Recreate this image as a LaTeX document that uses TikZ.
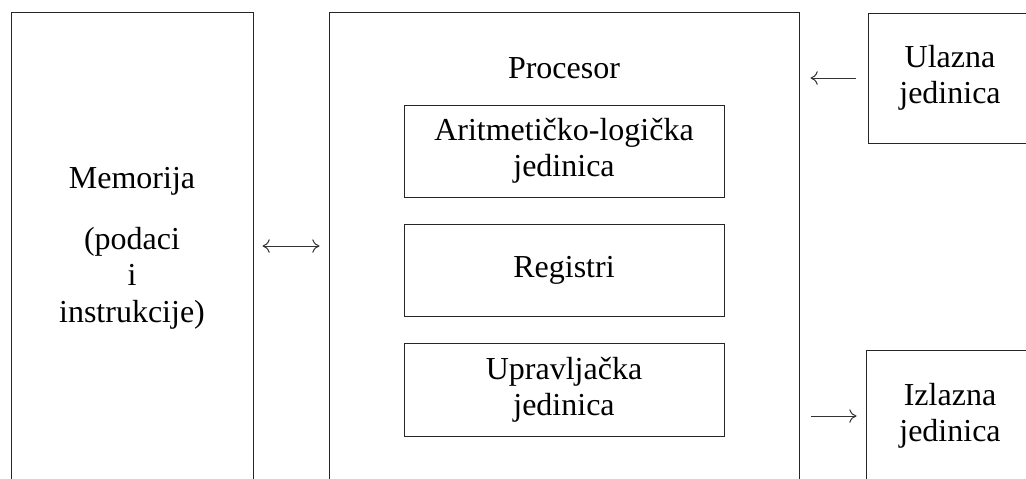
\documentclass[tikz,border=0pt]{standalone}
\usepackage{fontspec}
\setmainfont{Liberation Serif}
\usetikzlibrary{arrows.meta}
\begin{document}
\begin{tikzpicture}[x=0.5pt,y=-0.5pt,
  box/.style={draw=black!85, line width=0.5pt, inner sep=0pt, align=center,
    font=\fontsize{16}{18.2}\selectfont},
  tip/.style={To[length=3.6pt,width=6.8pt]},
  conn/.style={draw=black!80, line width=0.5pt, -{To[length=3.6pt,width=6.8pt]}},
  lbl/.style={font=\fontsize{16}{18.2}\selectfont}]
\useasboundingbox (0,0) rectangle (1026,478);
\clip (0,0) rectangle (1026,478);
\fill[white] (0,0) rectangle (1026,478);
\node[box, minimum width=121pt, minimum height=236pt] (mem) at (132,248)
  {Memorija\\[12.5pt](podaci\\i\\instrukcije)};
\node[box, minimum width=235pt, minimum height=236pt] (proc) at (564,248) {};
\node[lbl, anchor=base] (proclbl) at (564,78) {Procesor};
\node[box, minimum width=160pt, minimum height=46pt] (alu) at (564,151)
  {Aritmetičko-logička\\jedinica};
\node[box, minimum width=160pt, minimum height=46pt] (reg) at (564,270)
  {Registri};
\node[box, minimum width=160pt, minimum height=46.5pt] (upr) at (564,389.5)
  {Upravljačka\\jedinica};
\node[box, minimum width=82pt, minimum height=65pt] (ul) at (950,78)
  {Ulazna\\jedinica};
\node[box, minimum width=84pt, minimum height=66pt] (iz) at (950,416)
  {Izlazna\\jedinica};
\coordinate (mema) at (mem.east |- 0,246);
\coordinate (proca) at (proc.west |- 0,246);
\draw[conn, {To[length=3.6pt,width=6.8pt]}-{To[length=3.6pt,width=6.8pt]},
  shorten <=4.5pt, shorten >=4.5pt] (mema) -- (proca);
\draw[conn, shorten <=6pt, shorten >=5.5pt] (ul.west) -- (proc.east |- ul.west);
\draw[conn, shorten <=5.5pt, shorten >=4.5pt] (proc.east |- iz.west) -- (iz.west);
\end{tikzpicture}
\end{document}
